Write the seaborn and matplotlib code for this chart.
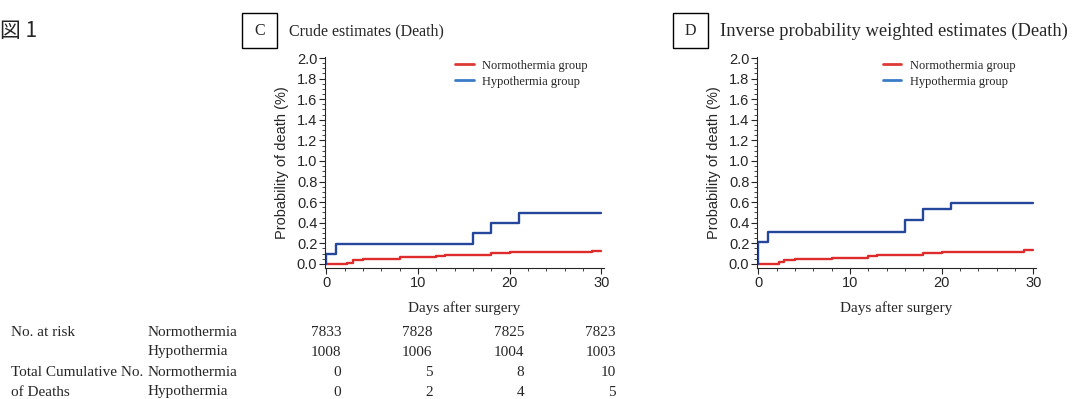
import matplotlib
matplotlib.use("Agg")
import matplotlib.pyplot as plt
import matplotlib.patches as patches
import matplotlib.transforms as mtransforms
from matplotlib.lines import Line2D
from matplotlib.ticker import MultipleLocator
import seaborn as sns
import pandas as pd

# --- data ---
groups = ["Normothermia group", "Hypothermia group"]

crude_normo_days = [0, 2.2, 2.9, 4, 8, 12, 13, 18, 20, 29, 30]
crude_normo_prob = [0, 0.013, 0.038, 0.051, 0.064, 0.077, 0.089, 0.102, 0.115, 0.128, 0.128]
crude_hypo_days = [0, 0, 1, 16, 18, 21, 30]
crude_hypo_prob = [0, 0.099, 0.198, 0.298, 0.397, 0.496, 0.496]

ipw_normo_days = [0, 2.2, 2.8, 4, 8, 12, 13, 18, 20, 29, 30]
ipw_normo_prob = [0, 0.014, 0.039, 0.046, 0.062, 0.075, 0.089, 0.104, 0.117, 0.133, 0.133]
ipw_hypo_days = [0, 0, 1, 16, 18, 21, 30]
ipw_hypo_prob = [0, 0.215, 0.31, 0.425, 0.53, 0.59, 0.59]

table_days = [0, 10, 20, 30]
risk_normo = [7833, 7828, 7825, 7823]
risk_hypo = [1008, 1006, 1004, 1003]
deaths_normo = [0, 5, 8, 10]
deaths_hypo = [0, 2, 4, 5]

line_colors = {"Normothermia group": "#de2b2b", "Hypothermia group": "#24479c"}
legend_colors = ["#de3a34", "#3a7cc6"]


def make_frame(nd, npb, hd, hpb):
    rows = [(d, p, groups[0]) for d, p in zip(nd, npb)]
    rows += [(d, p, groups[1]) for d, p in zip(hd, hpb)]
    return pd.DataFrame(rows, columns=["day", "prob", "group"])


sns.set_style("ticks")
plt.rcParams["font.family"] = ["Liberation Serif", "Noto Sans CJK JP", "DejaVu Sans"]

fig = plt.figure(figsize=(10.74, 3.99), dpi=100)
W, H = 1074, 399


def fx(px):
    return px / W


def fy(py):
    return 1 - py / H


axC = fig.add_axes([fx(325), fy(268), fx(604) - fx(325), fy(57) - fy(268)])
axD = fig.add_axes([fx(757), fy(268), fx(1036) - fx(757), fy(57) - fy(268)])

panels = [
    (axC, make_frame(crude_normo_days, crude_normo_prob, crude_hypo_days, crude_hypo_prob),
     "C", "Crude estimates (Death)", 242, 0.425, 11.5),
    (axD, make_frame(ipw_normo_days, ipw_normo_prob, ipw_hypo_days, ipw_hypo_prob),
     "D", "Inverse probability weighted estimates (Death)", 673, 0.41, 13.3),
]

for ax, df, letter, title, box_x, leg_x, title_size in panels:
    sns.lineplot(data=df, x="day", y="prob", hue="group", hue_order=groups,
                 palette=line_colors, estimator=None, sort=False,
                 drawstyle="steps-post", linewidth=1.7, legend=False, ax=ax)
    ax.set_xlim(-0.15, 30.3)
    ax.set_ylim(-0.04, 2.01)
    ax.xaxis.set_major_locator(MultipleLocator(10))
    ax.xaxis.set_minor_locator(MultipleLocator(2))
    ax.yaxis.set_major_locator(MultipleLocator(0.2))
    ax.yaxis.set_minor_locator(MultipleLocator(0.05))
    ax.tick_params(which="major", length=4, width=0.8, labelsize=10.5, pad=1.5)
    ax.tick_params(which="minor", length=2, width=0.6)
    ax.set_yticklabels([f"{v:.1f}" for v in ax.get_yticks()])
    for lab in ax.get_xticklabels() + ax.get_yticklabels():
        lab.set_fontfamily("Liberation Sans")
    ax.set_ylabel("Probability of death (%)", family="Liberation Sans", fontsize=10.5, labelpad=6)
    ax.set_xlabel("Days after surgery", fontsize=11, labelpad=8)
    sns.despine(ax=ax)
    handles = [Line2D([0], [0], color=c, lw=2) for c in legend_colors]
    ax.legend(handles, groups, loc="upper left", bbox_to_anchor=(leg_x, 1.04),
              frameon=False, fontsize=9, handlelength=1.5, handletextpad=0.7,
              labelspacing=0.3)
    # boxed panel letter and title
    fig.patches.append(patches.Rectangle((fx(box_x), fy(48)), fx(35), fy(13) - fy(48),
                                         transform=fig.transFigure, fill=False,
                                         edgecolor="black", linewidth=1.0))
    fig.text(fx(box_x + 17.5), fy(31), letter, ha="center", va="center", fontsize=11.5)
    fig.text(fx(box_x + 47), fy(31), title, ha="left", va="center", fontsize=title_size)

fig.text(fx(0), fy(31), "図 1", ha="left", va="center", fontsize=15,
         family=["Noto Sans CJK JP", "DejaVu Sans"])

# numbers at risk / cumulative deaths table under panel C
trans = mtransforms.blended_transform_factory(axC.transData, fig.transFigure)
row_y = [332, 352, 373, 392]
row_left = ["No. at risk", "", "Total Cumulative No.", "of Deaths"]
row_group = ["Normothermia", "Hypothermia", "Normothermia", "Hypothermia"]
row_vals = [risk_normo, risk_hypo, deaths_normo, deaths_hypo]
for y, left, grp, vals in zip(row_y, row_left, row_group, row_vals):
    if left:
        fig.text(fx(11), fy(y), left, ha="left", va="center", fontsize=11)
    fig.text(fx(148), fy(y), grp, ha="left", va="center", fontsize=11)
    for d, v in zip(table_days, vals):
        fig.text(d + 1.6, fy(y), str(v), ha="right", va="center", fontsize=11, transform=trans)

fig.savefig("out.png", dpi=100)
